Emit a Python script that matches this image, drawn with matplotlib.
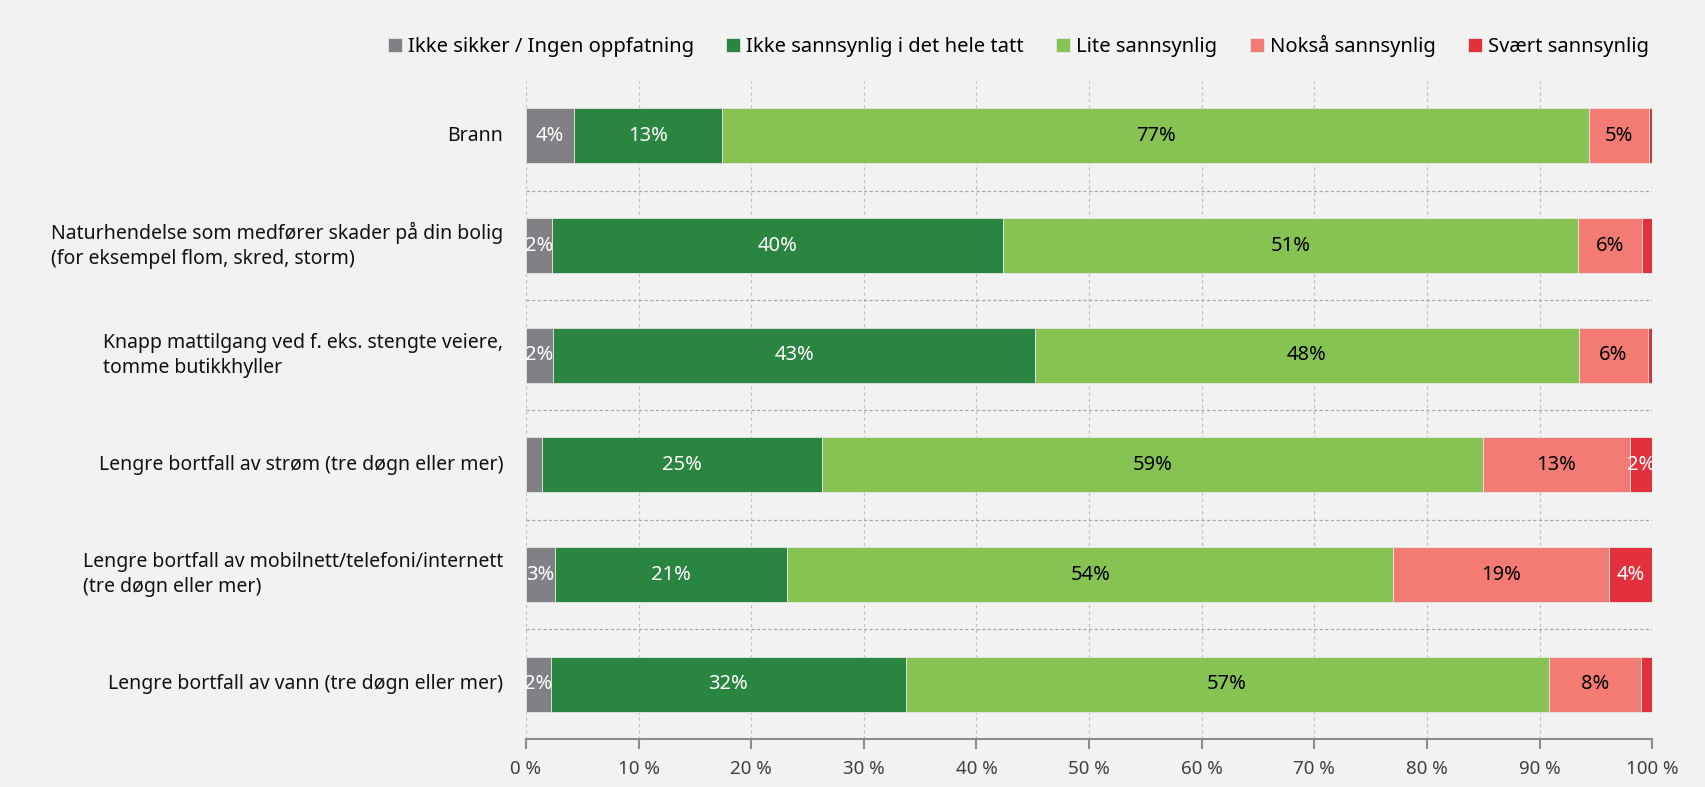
import numpy as np
import matplotlib
matplotlib.use('Agg')
import matplotlib.pyplot as plt
from matplotlib.transforms import blended_transform_factory

plt.rcParams['font.family'] = ['Noto Sans', 'DejaVu Sans']

# categories (top to bottom)
categories = ['Brann',
              'Naturhendelse som medfører skader på din bolig\n(for eksempel flom, skred, storm)',
              'Knapp mattilgang ved f. eks. stengte veiere,\ntomme butikkhyller',
              'Lengre bortfall av strøm (tre døgn eller mer)',
              'Lengre bortfall av mobilnett/telefoni/internett\n(tre døgn eller mer)',
              'Lengre bortfall av vann (tre døgn eller mer)']

series_names = ['Ikke sikker / Ingen oppfatning', 'Ikke sannsynlig i det hele tatt',
                'Lite sannsynlig', 'Nokså sannsynlig', 'Svært sannsynlig']

# share in percent per category, one list per series
ikke_sikker = [4.3, 2.3, 2.4, 1.4, 2.6, 2.2]
ikke_sannsynlig = [13.1, 40.1, 42.8, 24.9, 20.6, 31.5]
lite_sannsynlig = [77.0, 51.0, 48.3, 58.7, 53.8, 57.1]
noksa_sannsynlig = [5.3, 5.7, 6.1, 13.0, 19.2, 8.2]
svaert_sannsynlig = [0.3, 0.9, 0.4, 2.0, 3.8, 1.0]

series = [ikke_sikker, ikke_sannsynlig, lite_sannsynlig, noksa_sannsynlig, svaert_sannsynlig]
colors = ['#808085', '#2A8541', '#86C352', '#F47B73', '#E3303D']
text_colors = ['white', 'white', 'black', 'black', 'white']

bg = '#F2F2F2'
fig = plt.figure(figsize=(17.05, 7.87), dpi=100, facecolor=bg)
ax = fig.add_axes([0.3085, 0.061, 0.6605, 0.836])
ax.set_facecolor(bg)

y = np.arange(len(categories))
left = np.zeros(len(categories))
for vals, col, tcol, name in zip(series, colors, text_colors, series_names):
    vals = np.array(vals)
    ax.barh(y, vals, left=left, height=0.5, color=col, edgecolor='#E6E6E6',
            linewidth=0.6, label=name, zorder=3)
    for yi, l, v in zip(y, left, vals):
        if v >= 1.5:
            ax.text(l + v / 2, yi, '%d%%' % round(v), ha='center', va='center',
                    color=tcol, fontsize=14.5, zorder=4)
    left += vals

ax.set_xlim(0, 100)
ax.set_ylim(len(categories) - 0.5, -0.5)
ax.set_xticks(np.arange(0, 101, 10))
ax.set_xticklabels(['%d %%' % t for t in range(0, 101, 10)], fontsize=13.5, color='#404040')
ax.set_yticks([])

# vertical dashed grid
for t in range(0, 101, 10):
    ax.axvline(t, color='#C0C0C0', linestyle=(0, (2.5, 2.5)), linewidth=0.9, zorder=1)
# horizontal separators between categories
for s in np.arange(0.5, len(categories) - 0.5, 1):
    ax.axhline(s, color='#A6A6A6', linestyle=(0, (2.5, 2)), linewidth=0.9, zorder=1)

for sp in ['top', 'right', 'left']:
    ax.spines[sp].set_visible(False)
ax.spines['bottom'].set_color('#8C8C8C')
ax.spines['bottom'].set_linewidth(1.5)
ax.tick_params(axis='x', length=7, width=1.5, color='#8C8C8C', pad=8)

trans = blended_transform_factory(ax.transAxes, ax.transData)
for yi, cat in zip(y, categories):
    ax.text(-0.02, yi, cat, transform=trans, ha='right', va='center',
            multialignment='left', fontsize=14, color='#111111', linespacing=1.35)

fig.legend(loc='center right', bbox_to_anchor=(0.972, 0.942), ncol=5, frameon=False,
           fontsize=14.5, handlelength=0.7, handleheight=0.7, handletextpad=0.3,
           columnspacing=1.6, borderaxespad=0)

fig.savefig('out.png', dpi=100, facecolor=bg)
